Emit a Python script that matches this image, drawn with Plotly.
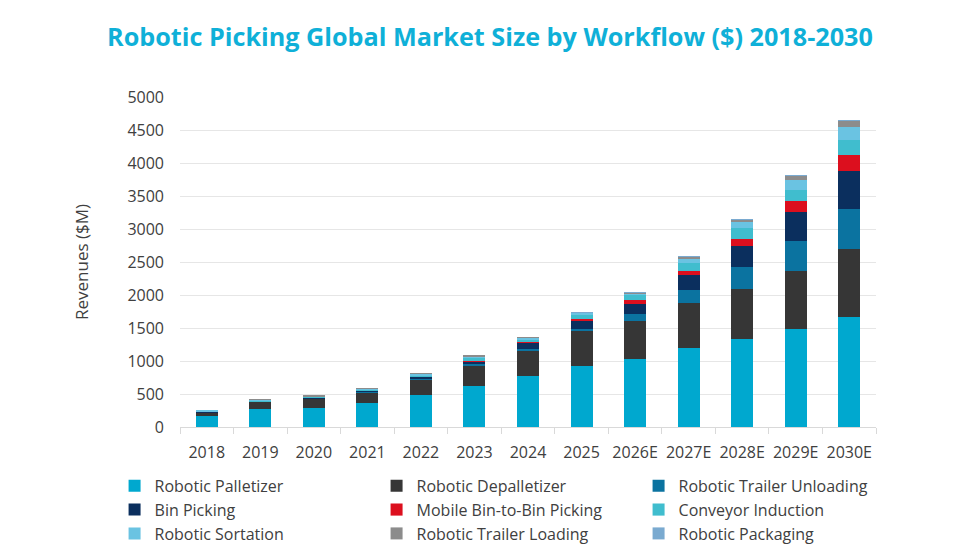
import plotly.graph_objects as go

years = ["2018", "2019", "2020", "2021", "2022", "2023", "2024", "2025",
         "2026E", "2027E", "2028E", "2029E", "2030E"]

palletizer = [160, 280, 295, 365, 490, 615, 767, 919, 1036, 1199, 1336, 1489, 1666]
depalletizer = [60, 100, 135, 165, 237, 315, 391, 529, 564, 680, 762, 873, 1027]
trailer_unloading = [5, 5, 8, 10, 15, 25, 26, 41, 118, 198, 330, 457, 609]
bin_picking = [5, 5, 8, 12, 20, 40, 92, 126, 141, 224, 315, 442, 584]
mobile_bin = [0, 0, 0, 1, 2, 5, 10, 26, 61, 66, 112, 168, 239]
conveyor = [5, 10, 10, 12, 20, 40, 40, 66, 76, 113, 158, 168, 223]
sortation = [10, 10, 12, 12, 20, 35, 30, 25, 31, 76, 86, 152, 199]
trailer_loading = [0, 2, 2, 3, 3, 5, 5, 5, 10, 24, 41, 66, 91]
packaging = [0, 0, 0, 0, 0, 0, 0, 1, 1, 2, 2, 3, 3]

series = [
    ("Robotic Palletizer", palletizer, "#00A8CF"),
    ("Robotic Depalletizer", depalletizer, "#363636"),
    ("Robotic Trailer Unloading", trailer_unloading, "#0B73A0"),
    ("Bin Picking", bin_picking, "#0B2F5E"),
    ("Mobile Bin-to-Bin Picking", mobile_bin, "#DC0F1E"),
    ("Conveyor Induction", conveyor, "#40BDCE"),
    ("Robotic Sortation", sortation, "#6AC3E2"),
    ("Robotic Trailer Loading", trailer_loading, "#8C8C8C"),
    ("Robotic Packaging", packaging, "#7AAAD0"),
]

fig = go.Figure()
for name, vals, color in series:
    fig.add_trace(go.Bar(x=years, y=vals, name=name, marker_color=color,
                         marker_line_width=0))

# page has an 8px body margin, so the figure is a bit smaller than the window
font = "Open Sans, Noto Sans, sans-serif"
fig.update_layout(
    barmode="stack",
    bargap=0.59,
    width=964, height=544,
    margin=dict(l=172, r=96, t=89, b=125, autoexpand=False),
    plot_bgcolor="white", paper_bgcolor="white",
    font=dict(family=font, size=16, color="#404040"),
    title=dict(text="<b>Robotic Picking Global Market Size by Workflow ($) 2018-2030</b>",
               x=0.5, xref="container", xanchor="center", y=0.947, yanchor="middle",
               font=dict(family=font, size=25.2, color="#0FB0D8")),
    legend=dict(orientation="h", traceorder="normal", x=-0.094, xanchor="left",
                y=-0.127, yanchor="top", entrywidth=217, entrywidthmode="pixels",
                font=dict(size=16, color="#404040"), itemwidth=30,
                tracegroupgap=0),
    showlegend=True,
)
fig.update_xaxes(showline=True, linecolor="#D9D9D9", ticks="outside",
                 tickson="boundaries", ticklen=6, tickcolor="#D9D9D9",
                 tickangle=0, automargin=False, ticklabelstandoff=11,
                 tickfont=dict(size=16, color="#404040"))
fig.update_yaxes(range=[0, 5000], dtick=500, showgrid=True, gridcolor="#E6E6E6",
                 zeroline=False, ticks="", automargin=False, ticklabelstandoff=15,
                 tickfont=dict(size=16, color="#404040"),
                 title=dict(text="Revenues ($M)", font=dict(size=17, color="#404040"),
                            standoff=34))

fig.write_html("out.html")
